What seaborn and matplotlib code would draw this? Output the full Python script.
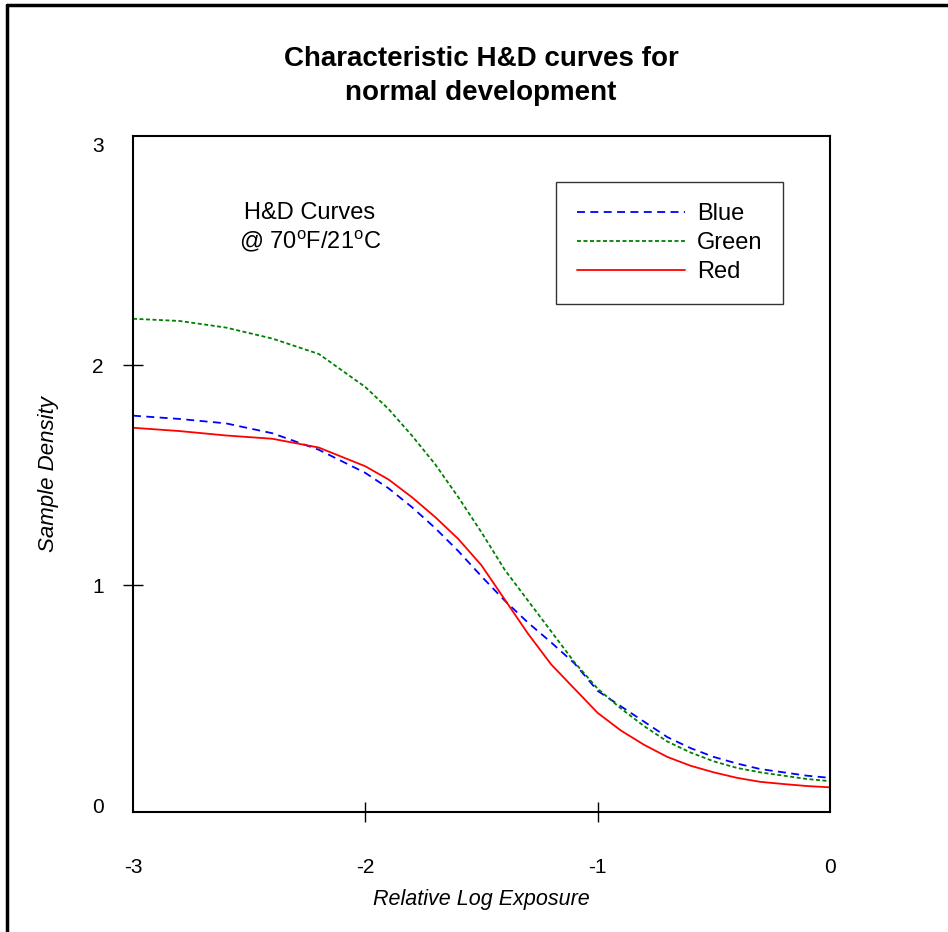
import numpy as np
import pandas as pd
import seaborn as sns
import matplotlib
matplotlib.use('Agg')
from matplotlib import pyplot as plt
from matplotlib.lines import Line2D

# values
log_exposure = [-3.0, -2.8, -2.6, -2.4, -2.2, -2.0, -1.9, -1.8, -1.7, -1.6, -1.5, -1.4, -1.3,
                -1.2, -1.1, -1.0, -0.9, -0.8, -0.7, -0.6, -0.5, -0.4, -0.3, -0.2, -0.1, 0.0]
blue_density = [1.77, 1.755, 1.735, 1.69, 1.615, 1.51, 1.44, 1.355, 1.26, 1.155, 1.04, 0.93, 0.83,
                0.74, 0.645, 0.52, 0.45, 0.38, 0.31, 0.26, 0.22, 0.19, 0.165, 0.15, 0.135, 0.125]
green_density = [2.21, 2.20, 2.17, 2.12, 2.05, 1.90, 1.80, 1.68, 1.55, 1.40, 1.24, 1.07, 0.93,
                 0.79, 0.65, 0.53, 0.44, 0.36, 0.29, 0.24, 0.20, 0.17, 0.15, 0.135, 0.12, 0.11]
red_density = [1.715, 1.70, 1.68, 1.665, 1.625, 1.54, 1.48, 1.40, 1.31, 1.21, 1.09, 0.935, 0.78,
               0.64, 0.53, 0.42, 0.34, 0.275, 0.22, 0.18, 0.15, 0.125, 0.107, 0.097, 0.088, 0.082]
series_names = ['Blue', 'Green', 'Red']

df = pd.DataFrame({
    'x': log_exposure * 3,
    'y': blue_density + green_density + red_density,
    'curve': np.repeat(series_names, len(log_exposure)),
})

sns.set_style('white')
plt.rcParams['font.family'] = ['Liberation Sans', 'DejaVu Sans']
plt.rcParams['mathtext.fontset'] = 'custom'
plt.rcParams['mathtext.rm'] = 'Liberation Sans'
plt.rcParams['text.color'] = 'black'
plt.rcParams['axes.labelcolor'] = 'black'
plt.rcParams['xtick.color'] = 'black'
plt.rcParams['ytick.color'] = 'black'

fs = 15

fig = plt.figure(figsize=(9.48, 9.32), dpi=100)
ax = fig.add_axes([133 / 948, 120 / 932, 697 / 948, 676 / 932])

lw = 1.3
colors = {'Blue': '#0000ff', 'Green': '#008000', 'Red': '#ff0000'}
dash_map = {'Blue': (4.4, 3.0), 'Green': (2.2, 1.4), 'Red': ''}
sns.lineplot(data=df, x='x', y='y', hue='curve', style='curve', palette=colors,
             dashes=dash_map, linewidth=lw, ax=ax, legend=False, sort=False)

ax.set_xlim(-3, 0)
ax.set_ylim(-0.03, 3.04)
ax.set_xticks([-3, -2, -1, 0])
ax.set_xticklabels(['-3', '-2', '-1', '0'])
ax.set_yticks([0, 1, 2, 3])
ax.set_yticklabels(['0', '1', '2', '3'])
ax.tick_params(bottom=True, left=True, direction='inout', length=14, width=1,
               color='black', labelsize=fs)
ax.tick_params(axis='x', pad=26)
ax.tick_params(axis='y', pad=14)
for t in [ax.xaxis.get_major_ticks()[0], ax.xaxis.get_major_ticks()[-1],
          ax.yaxis.get_major_ticks()[0], ax.yaxis.get_major_ticks()[-1]]:
    t.tick1line.set_visible(False)
for sp in ax.spines.values():
    sp.set_color('black')
    sp.set_linewidth(1.5)

ax.set_xlabel('Relative Log Exposure', fontsize=15.5, style='italic', labelpad=9)
ax.set_ylabel('Sample Density', fontsize=16, style='italic', labelpad=24)

# legend
handles = [Line2D([], [], color=colors[n], linewidth=lw,
                  dashes=dash_map[n] if dash_map[n] else (None, None),
                  linestyle='--' if dash_map[n] else '-') for n in series_names]
leg = ax.legend(handles, series_names, loc='upper left', bbox_to_anchor=(556 / 948, 750 / 932),
                bbox_transform=fig.transFigure, fancybox=False, frameon=True, fontsize=17,
                handlelength=4.6, handletextpad=0.5, labelspacing=0.3, borderpad=0.88,
                borderaxespad=0)
leg.get_frame().set_edgecolor('black')
leg.get_frame().set_linewidth(1.0)

ax.text(0.254, 0.886, 'H&D Curves', transform=ax.transAxes, ha='center', va='center', fontsize=17)
ax.text(0.254, 0.843, r'@ 70$^\mathrm{o}$F/21$^\mathrm{o}$C', transform=ax.transAxes,
        ha='center', va='center', fontsize=17)

fig.text(481 / 948, 1 - 76 / 932, 'Characteristic H&D curves for\nnormal development',
         ha='center', va='center', fontsize=20, fontweight='bold', linespacing=1.4)

# outer frame (top and left only)
fig.add_artist(Line2D([7 / 948, 1], [1 - 5 / 932, 1 - 5 / 932], transform=fig.transFigure,
                      color='black', linewidth=2.5))
fig.add_artist(Line2D([7 / 948, 7 / 948], [0, 1 - 5 / 932], transform=fig.transFigure,
                      color='black', linewidth=2.5))

fig.savefig('out.png', dpi=100)
